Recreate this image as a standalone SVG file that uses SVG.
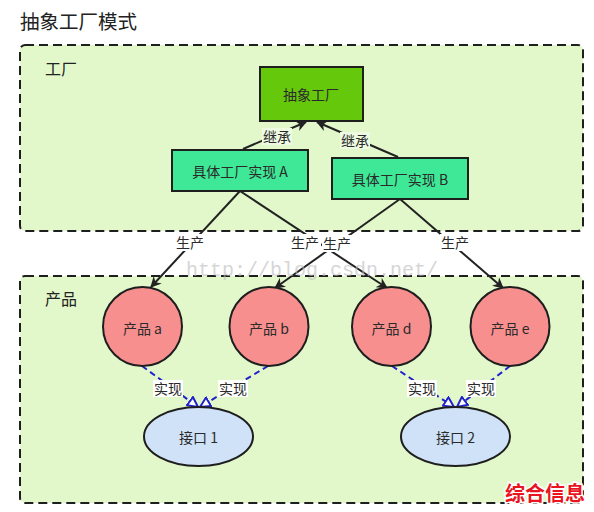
<svg xmlns="http://www.w3.org/2000/svg" width="594" height="512" viewBox="0 0 594 512">
<style>
.t{font-family:"Noto Sans CJK SC","Liberation Sans",sans-serif;font-size:14px;fill:#2a2a2a;text-anchor:middle;dominant-baseline:central}
.hd{font-family:"Noto Sans CJK SC",sans-serif;font-size:16px;fill:#222}
.box{stroke:#1e1e1e;stroke-width:2}
.cont{fill:#e2f8cb;stroke:#1e1e1e;stroke-width:2;stroke-dasharray:9 5}
.e{fill:none;stroke:#222;stroke-width:2}
.r{fill:none;stroke:#2222cc;stroke-width:2;stroke-dasharray:6 4}
.lbg{fill:#eefbe2}
</style>
<defs>
<marker id="ar" viewBox="0 0 10 10" refX="9" refY="5" markerWidth="11" markerHeight="11" orient="auto" markerUnits="userSpaceOnUse">
<path d="M0,0 L10,5 L0,10 L3,5 Z" fill="#222"/>
</marker>
<marker id="hb" viewBox="0 0 12 12" refX="11" refY="6" markerWidth="12" markerHeight="12" orient="auto" markerUnits="userSpaceOnUse">
<path d="M1,1 L11,6 L1,11 Z" fill="#fff" stroke="#2222cc" stroke-width="2"/>
</marker>
</defs>
<rect width="594" height="512" fill="#fff"/>
<text x="20" y="29" font-family="Noto Sans CJK SC,sans-serif" font-size="19.5" fill="#222">抽象工厂模式</text>

<g id="factory-container">
<rect class="cont" x="20" y="45" width="563" height="186" rx="5"/>
<text class="hd" x="45" y="75">工厂</text>
</g>
<g id="product-container">
<rect class="cont" x="20" y="276" width="563" height="227" rx="5"/>
<text class="hd" x="45" y="305">产品</text>
</g>

<g id="connectors">
<line class="e" x1="243" y1="149" x2="306" y2="122" marker-end="url(#ar)"/>
<line class="e" x1="398" y1="157" x2="317" y2="122" marker-end="url(#ar)"/>
<rect class="lbg" x="262" y="128" width="30" height="17"/>
<text class="t" x="277" y="136">继承</text>
<rect class="lbg" x="340" y="132" width="30" height="17"/>
<text class="t" x="355" y="140">继承</text>

<line class="e" x1="240" y1="191" x2="151" y2="287" marker-end="url(#ar)"/>
<line class="e" x1="240" y1="191" x2="387" y2="288" marker-end="url(#ar)"/>
<line class="e" x1="400" y1="199" x2="275" y2="288" marker-end="url(#ar)"/>
<line class="e" x1="400" y1="199" x2="503" y2="288" marker-end="url(#ar)"/>
<rect fill="#fff" x="175" y="234" width="30" height="17"/>
<text class="t" x="190" y="242">生产</text>
<rect fill="#fff" x="291" y="234" width="30" height="17"/>
<text class="t" x="305" y="242">生产</text>
<rect fill="#fff" x="322" y="235" width="30" height="17"/>
<text class="t" x="337" y="243">生产</text>
<rect fill="#fff" x="440" y="234" width="30" height="17"/>
<text class="t" x="455" y="242">生产</text>

<line class="r" x1="142" y1="366" x2="198" y2="407" marker-end="url(#hb)"/>
<line class="r" x1="268" y1="366" x2="200" y2="407" marker-end="url(#hb)"/>
<line class="r" x1="392" y1="366" x2="454" y2="407" marker-end="url(#hb)"/>
<line class="r" x1="510" y1="366" x2="457" y2="407" marker-end="url(#hb)"/>
<rect fill="#fff" x="153" y="380" width="30" height="17"/>
<text class="t" x="168" y="388">实现</text>
<rect fill="#fff" x="218" y="380" width="30" height="17"/>
<text class="t" x="233" y="388">实现</text>
<rect fill="#fff" x="407" y="380" width="30" height="17"/>
<text class="t" x="422" y="388">实现</text>
<rect fill="#fff" x="466" y="380" width="30" height="17"/>
<text class="t" x="481" y="388">实现</text>
</g>

<g id="abstract-factory">
<rect class="box" x="260" y="67" width="103" height="54" fill="#66c80a"/>
<text class="t" x="311" y="94" fill="#333">抽象工厂</text>
</g>
<g id="factory-a">
<rect class="box" x="172" y="150" width="136" height="41" fill="#3ee896"/>
<text class="t" x="240" y="171">具体工厂实现 A</text>
</g>
<g id="factory-b">
<rect class="box" x="332" y="158" width="136" height="41" fill="#3ee896"/>
<text class="t" x="400" y="179">具体工厂实现 B</text>
</g>

<g id="product-a">
<circle class="box" cx="142.5" cy="326.5" r="39.5" fill="#f78f8f"/>
<text class="t" x="142.5" y="328">产品 a</text>
</g>
<g id="product-b">
<circle class="box" cx="269" cy="326.5" r="39.5" fill="#f78f8f"/>
<text class="t" x="269" y="328">产品 b</text>
</g>
<g id="product-d">
<circle class="box" cx="391.5" cy="326.5" r="39.5" fill="#f78f8f"/>
<text class="t" x="391.5" y="328">产品 d</text>
</g>
<g id="product-e">
<circle class="box" cx="510" cy="326.5" r="39.5" fill="#f78f8f"/>
<text class="t" x="510" y="328">产品 e</text>
</g>

<g id="interface-1">
<ellipse class="box" cx="198.5" cy="436.5" rx="54.5" ry="29.5" fill="#cfe2f7"/>
<text class="t" x="198.5" y="437">接口 1</text>
</g>
<g id="interface-2">
<ellipse class="box" cx="455.5" cy="436.5" rx="54.5" ry="29.5" fill="#cfe2f7"/>
<text class="t" x="455.5" y="437">接口 2</text>
</g>

<text x="186" y="276" font-family="Liberation Mono,monospace" font-size="20" fill="#bbb" opacity="0.6">http://blog.csdn.net/</text>
<text x="505" y="501" font-family="Noto Sans CJK SC,sans-serif" font-size="20" font-weight="bold" fill="#e8141e" stroke="#fff" stroke-width="3" paint-order="stroke">综合信息</text>
</svg>
